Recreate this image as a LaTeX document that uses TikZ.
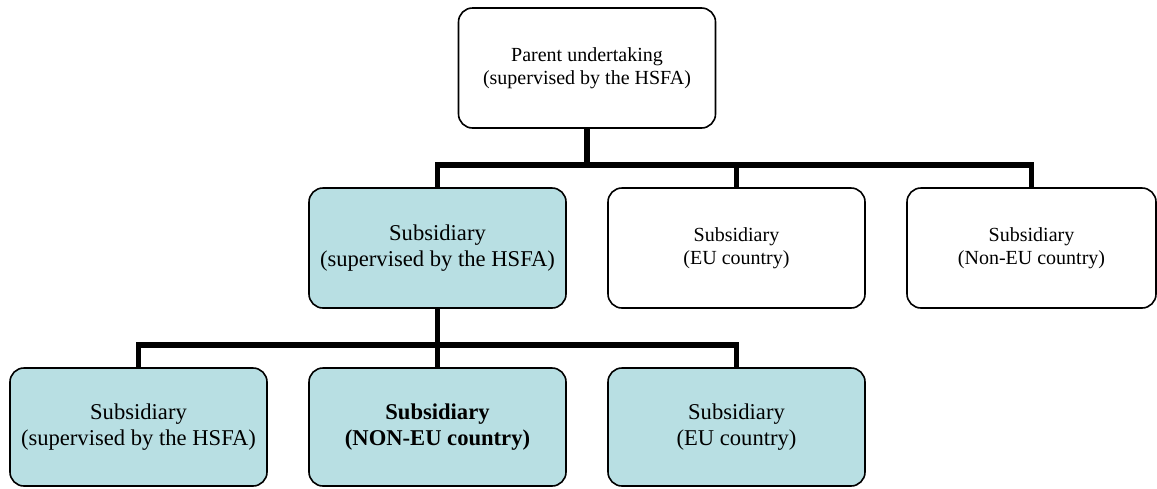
\documentclass[tikz,border=0pt]{standalone}
\usepackage{fontspec}
\setmainfont{Liberation Serif}
\definecolor{subfill}{RGB}{184,223,227}
\begin{document}
\begin{tikzpicture}[x=0.5pt,y=-0.5pt,
box/.style={draw, line width=0.8pt, rounded corners=7pt, align=center, inner sep=0pt, minimum width=128.5pt, minimum height=60pt, font=\fontsize{11.3}{12.8}\selectfont},
smallbox/.style={box, font=\fontsize{10}{11.5}\selectfont},
sub/.style={box, fill=subfill},
link/.style={line width=2.6pt}]
\useasboundingbox (0,0) rectangle (1157,488);

\node (0) at (587,68) [smallbox] {Parent undertaking\\(supervised by the HSFA)};
\node (1) at (437.5,248) [sub] {Subsidiary\\(supervised by the HSFA)};
\node (2) at (736.5,248) [smallbox] {Subsidiary\\(EU country)};
\node (3) at (1031.5,248) [smallbox, minimum width=124.5pt] {Subsidiary\\(Non-EU country)};
\node (4) at (138.5,427) [sub, minimum height=59pt] {Subsidiary\\(supervised by the HSFA)};
\node (5) at (437.5,427) [sub, minimum height=59pt] {\textbf{Subsidiary}\\\textbf{(NON-EU country)}};
\node (6) at (736.5,427) [sub, minimum height=59pt] {Subsidiary\\(EU country)};

\coordinate (b0) at (587,165);
\coordinate (b1) at (437.5,345);

\draw[link]
(0.south) -- (b0) -| (1.north)
(b0) -| (2.north)
(b0) -| (3.north)
(1.south) -- (b1) -| (4.north)
(b1) -- (5.north)
(b1) -| (6.north);
\end{tikzpicture}
\end{document}
